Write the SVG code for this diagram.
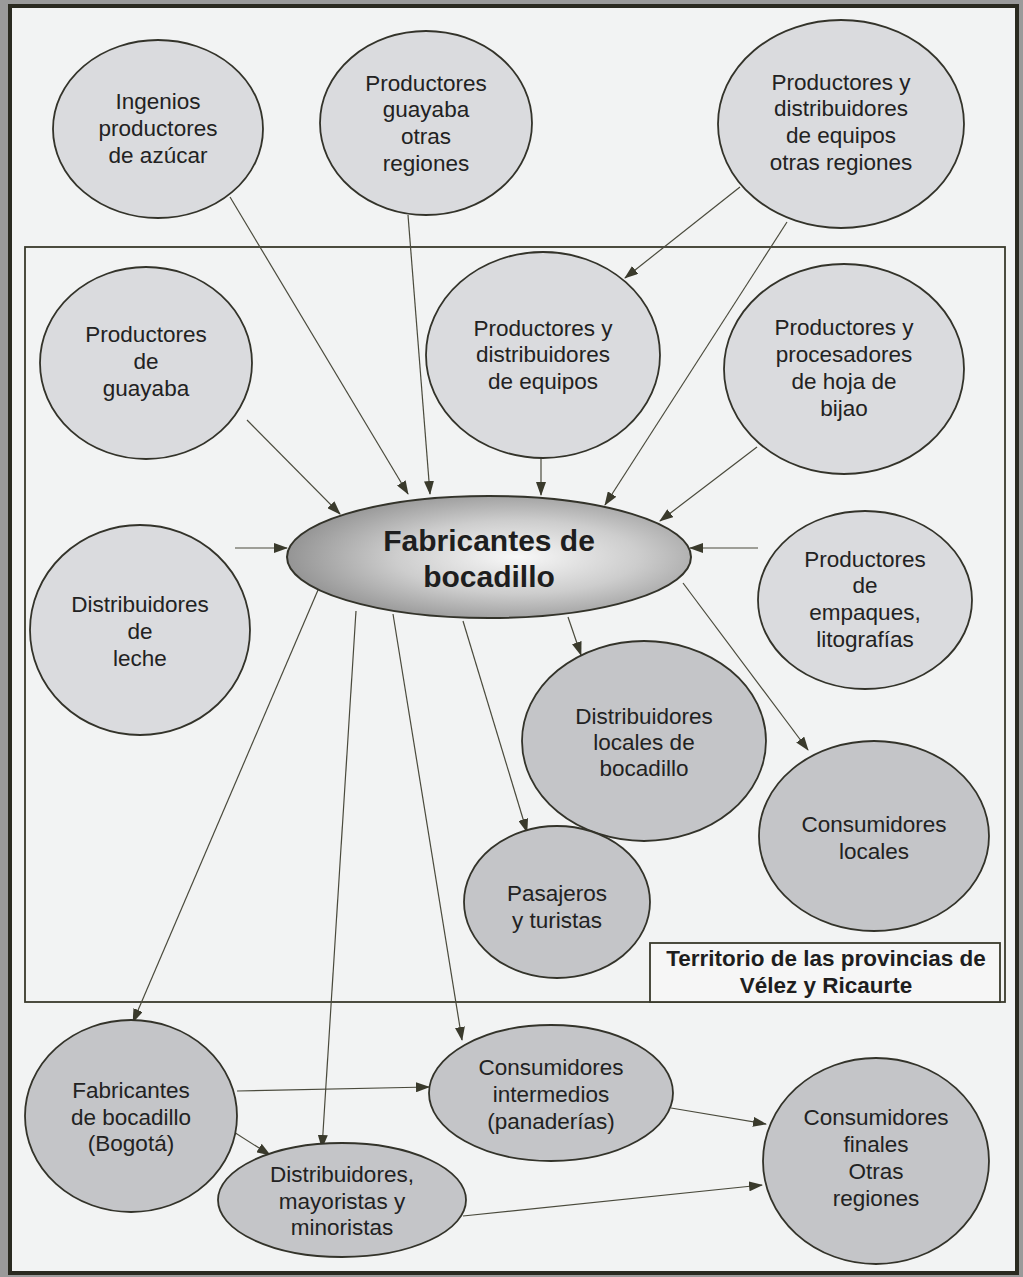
<svg xmlns="http://www.w3.org/2000/svg" width="1023" height="1277" viewBox="0 0 1023 1277">
<defs>
<marker id="ah" viewBox="0 0 14 10" refX="13" refY="5" markerWidth="14" markerHeight="10" markerUnits="userSpaceOnUse" orient="auto">
<path d="M0,0 L14,5 L0,10 z" fill="#3a3a2c"/>
</marker>
<radialGradient id="cg" cx="0.57" cy="0.5" r="0.6">
<stop offset="0" stop-color="#f8f8f8"/>
<stop offset="0.5" stop-color="#cdcdcd"/>
<stop offset="1" stop-color="#8e8e8e"/>
</radialGradient>
<style>
.n1{fill:#dadbde;stroke:#33332a;stroke-width:1.8}
.n2{fill:#c4c5c8;stroke:#33332a;stroke-width:1.8}
.t{font-family:"Liberation Sans",Arial,sans-serif;font-size:22.5px;fill:#222;text-anchor:middle}
.tb{font-family:"Liberation Sans",Arial,sans-serif;font-weight:bold;fill:#1e1e1e;text-anchor:middle}
.c line{stroke:#4a4a3c;stroke-width:1.2;marker-end:url(#ah)}
</style>
</defs>
<rect x="0" y="0" width="1023" height="1277" fill="#9a9a9a"/>
<rect x="10" y="6" width="1007" height="1267" fill="#f2f3f3" stroke="#2a2a20" stroke-width="4"/>
<rect x="25" y="247" width="980" height="755" fill="none" stroke="#3a3a2c" stroke-width="1.8"/>

<g class="c">
<line x1="230" y1="197" x2="408" y2="494"/>
<line x1="408" y1="215" x2="430" y2="494"/>
<line x1="740" y1="187" x2="625" y2="278"/>
<line x1="787" y1="222" x2="605" y2="505"/>
<line x1="247" y1="420" x2="340" y2="514"/>
<line x1="541" y1="458" x2="541" y2="495"/>
<line x1="757" y1="447" x2="660" y2="521"/>
<line x1="235" y1="548" x2="287" y2="548"/>
<line x1="758" y1="548" x2="690" y2="548"/>
<line x1="568" y1="617" x2="581" y2="655"/>
<line x1="683" y1="583" x2="808" y2="750"/>
<line x1="463" y1="621" x2="527" y2="832"/>
<line x1="393" y1="614" x2="462" y2="1040"/>
<line x1="356" y1="611" x2="322" y2="1148"/>
<line x1="318" y1="590" x2="133" y2="1022"/>
<line x1="237" y1="1091" x2="429" y2="1087"/>
<line x1="226" y1="1127" x2="270" y2="1155"/>
<line x1="671" y1="1108" x2="766" y2="1124"/>
<line x1="463" y1="1216" x2="762" y2="1185"/>
</g>

<g id="ingenios"><ellipse class="n1" cx="158" cy="129" rx="105" ry="89"/>
<text class="t"><tspan x="158" y="109">Ingenios</tspan><tspan x="158" y="136">productores</tspan><tspan x="158" y="163">de azúcar</tspan></text></g>

<g id="guayaba-otras"><ellipse class="n1" cx="426" cy="123" rx="106" ry="92"/>
<text class="t"><tspan x="426" y="91">Productores</tspan><tspan x="426" y="117">guayaba</tspan><tspan x="426" y="144">otras</tspan><tspan x="426" y="171">regiones</tspan></text></g>

<g id="equipos-otras"><ellipse class="n1" cx="841" cy="124" rx="123" ry="104"/>
<text class="t"><tspan x="841" y="90">Productores y</tspan><tspan x="841" y="116">distribuidores</tspan><tspan x="841" y="143">de equipos</tspan><tspan x="841" y="170">otras regiones</tspan></text></g>

<g id="productores-guayaba"><ellipse class="n1" cx="146" cy="363" rx="106" ry="96"/>
<text class="t"><tspan x="146" y="342">Productores</tspan><tspan x="146" y="369">de</tspan><tspan x="146" y="396">guayaba</tspan></text></g>

<g id="equipos"><ellipse class="n1" cx="543" cy="355" rx="117" ry="103"/>
<text class="t"><tspan x="543" y="336">Productores y</tspan><tspan x="543" y="362">distribuidores</tspan><tspan x="543" y="389">de equipos</tspan></text></g>

<g id="bijao"><ellipse class="n1" cx="844" cy="369" rx="120" ry="105"/>
<text class="t"><tspan x="844" y="335">Productores y</tspan><tspan x="844" y="362">procesadores</tspan><tspan x="844" y="389">de hoja de</tspan><tspan x="844" y="416">bijao</tspan></text></g>

<g id="fabricantes"><ellipse cx="489" cy="557" rx="202" ry="61" fill="url(#cg)" stroke="#33332a" stroke-width="2"/>
<text class="tb" font-size="30"><tspan x="489" y="551">Fabricantes de</tspan><tspan x="489" y="587">bocadillo</tspan></text></g>

<g id="leche"><ellipse class="n1" cx="140" cy="630" rx="110" ry="105"/>
<text class="t"><tspan x="140" y="612">Distribuidores</tspan><tspan x="140" y="639">de</tspan><tspan x="140" y="666">leche</tspan></text></g>

<g id="empaques"><ellipse class="n1" cx="865" cy="600" rx="107" ry="89"/>
<text class="t"><tspan x="865" y="567">Productores</tspan><tspan x="865" y="593">de</tspan><tspan x="865" y="620">empaques,</tspan><tspan x="865" y="647">litografías</tspan></text></g>

<g id="distribuidores-locales"><ellipse class="n2" cx="644" cy="741" rx="122" ry="100"/>
<text class="t"><tspan x="644" y="724">Distribuidores</tspan><tspan x="644" y="750">locales de</tspan><tspan x="644" y="776">bocadillo</tspan></text></g>

<g id="consumidores-locales"><ellipse class="n2" cx="874" cy="836" rx="115" ry="95"/>
<text class="t"><tspan x="874" y="832">Consumidores</tspan><tspan x="874" y="859">locales</tspan></text></g>

<g id="pasajeros"><ellipse class="n2" cx="557" cy="902" rx="93" ry="76"/>
<text class="t"><tspan x="557" y="901">Pasajeros</tspan><tspan x="557" y="928">y turistas</tspan></text></g>

<g id="territorio"><rect x="650" y="943" width="350" height="59" fill="#f6f6f6" stroke="#3a3a2c" stroke-width="1.8"/>
<text class="tb" font-size="22.5"><tspan x="826" y="966">Territorio de las provincias de</tspan><tspan x="826" y="993">Vélez y Ricaurte</tspan></text></g>

<g id="bogota"><ellipse class="n2" cx="131" cy="1116" rx="106" ry="96"/>
<text class="t"><tspan x="131" y="1098">Fabricantes</tspan><tspan x="131" y="1125">de bocadillo</tspan><tspan x="131" y="1151">(Bogotá)</tspan></text></g>

<g id="intermedios"><ellipse class="n2" cx="551" cy="1093" rx="122" ry="68"/>
<text class="t"><tspan x="551" y="1075">Consumidores</tspan><tspan x="551" y="1102">intermedios</tspan><tspan x="551" y="1129">(panaderías)</tspan></text></g>

<g id="mayoristas"><ellipse class="n2" cx="342" cy="1200" rx="124" ry="57"/>
<text class="t"><tspan x="342" y="1182">Distribuidores,</tspan><tspan x="342" y="1209">mayoristas y</tspan><tspan x="342" y="1235">minoristas</tspan></text></g>

<g id="finales"><ellipse class="n2" cx="876" cy="1161" rx="113" ry="103"/>
<text class="t"><tspan x="876" y="1125">Consumidores</tspan><tspan x="876" y="1152">finales</tspan><tspan x="876" y="1179">Otras</tspan><tspan x="876" y="1206">regiones</tspan></text></g>
</svg>
